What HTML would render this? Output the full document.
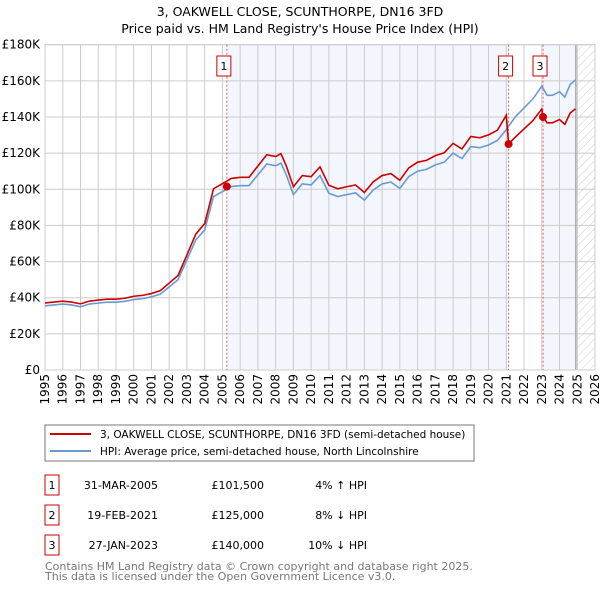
<!DOCTYPE html>
<html><head><meta charset="utf-8"><style>
body{margin:0;background:#fff;font-family:"DejaVu Sans","Liberation Sans",sans-serif}
svg text{font-family:"DejaVu Sans","Liberation Sans",sans-serif}
</style></head><body>
<svg id="c" width="600" height="590" xmlns="http://www.w3.org/2000/svg">
<defs><pattern id="hatch" width="6" height="6" patternUnits="userSpaceOnUse" patternTransform="rotate(45)"><line x1="0" y1="0" x2="0" y2="6" stroke="#ccc" stroke-width="1"/></pattern></defs>
<text x="300" y="16" text-anchor="middle" font-size="12.5">3, OAKWELL CLOSE, SCUNTHORPE, DN16 3FD</text>
<text x="300" y="33" text-anchor="middle" font-size="12.5">Price paid vs. HM Land Registry's House Price Index (HPI)</text>
<g id="plot"></g>
<rect x="45" y="425" width="429" height="36" fill="#fff" stroke="#777"/>
<line x1="50" y1="434" x2="91" y2="434" stroke="#cc0000" stroke-width="2"/>
<text x="100" y="438" font-size="10.5">3, OAKWELL CLOSE, SCUNTHORPE, DN16 3FD (semi-detached house)</text>
<line x1="50" y1="451" x2="91" y2="451" stroke="#6a9ad4" stroke-width="2"/>
<text x="100" y="455" font-size="10.5">HPI: Average price, semi-detached house, North Lincolnshire</text>
<g font-size="11" id="tbl"></g>
<text x="45" y="570" font-size="11" fill="#777">Contains HM Land Registry data © Crown copyright and database right 2025.</text>
<text x="45" y="580" font-size="11" fill="#777">This data is licensed under the Open Government Licence v3.0.</text>
</svg>
<script>
const hpiYears=[1995,1995.5,1996,1996.5,1997,1997.5,1998,1998.5,1999,1999.5,2000,2000.5,2001,2001.5,2002,2002.5,2003,2003.5,2004,2004.5,2005,2005.5,2006,2006.5,2007,2007.5,2008,2008.3,2008.6,2009,2009.5,2010,2010.5,2011,2011.5,2012,2012.5,2013,2013.5,2014,2014.5,2015,2015.5,2016,2016.5,2017,2017.5,2018,2018.5,2019,2019.5,2020,2020.5,2021,2021.5,2022,2022.5,2023,2023.3,2023.6,2024,2024.3,2024.6,2024.9];
const hpiValues=[35.5,36,36.5,36,35,36.5,37,37.5,37.5,38,39,39.5,40.5,42,46,50,61,72,77.5,96,98.7,101.5,102,102,108,114,113,114.5,108,97,103,102.4,107.6,97.8,96,97,98,94,99.6,103,104,100.5,107,110,111,113.5,115,120,117,123.6,123,124.5,127,133,140,145,150,157,152,152,154,151,158,160.5];
const priceYears=[1995,1995.5,1996,1996.5,1997,1997.5,1998,1998.5,1999,1999.5,2000,2000.5,2001,2001.5,2002,2002.5,2003,2003.5,2004,2004.5,2005,2005.5,2006,2006.5,2007,2007.5,2008,2008.3,2008.6,2009,2009.5,2010,2010.5,2011,2011.5,2012,2012.5,2013,2013.5,2014,2014.5,2015,2015.5,2016,2016.5,2017,2017.5,2018,2018.5,2019,2019.5,2020,2020.5,2021,2021.13,2021.5,2022,2022.5,2023,2023.07,2023.3,2023.6,2024,2024.3,2024.6,2024.9];
const priceValues=[37.1,37.6,38.1,37.6,36.6,38.1,38.7,39.2,39.2,39.7,40.8,41.3,42.3,43.9,48.1,52.3,63.7,75.2,81,100.3,103.1,106,106.6,106.6,112.9,119.1,118.1,119.7,112.9,101.4,107.6,107,112.4,102.2,100.3,101.4,102.4,98.2,104.1,107.6,108.7,105,111.8,115,116,118.6,120.2,125.4,122.3,129.2,128.5,130.1,132.7,141,125,128.8,133.4,138,144.4,140,136.8,136.8,138.6,135.9,142.2,144.5];
const saleYears=[2005.25,2021.13,2023.07];
const saleValues=[101.5,125,140];
const saleLabels=["1","2","3"];
const saleDates=["31-MAR-2005","19-FEB-2021","27-JAN-2023"];
const salePrices=["£101,500","£125,000","£140,000"];
const saleDiffs=["4% ↑ HPI","8% ↓ HPI","10% ↓ HPI"];
const yTicks=[0,20,40,60,80,100,120,140,160,180];
const xTicks=[1995,1996,1997,1998,1999,2000,2001,2002,2003,2004,2005,2006,2007,2008,2009,2010,2011,2012,2013,2014,2015,2016,2017,2018,2019,2020,2021,2022,2023,2024,2025,2026];
const dataEnd=2024.92;

const L=45,R=595,T=44.7,B=370;
const X=y=>L+(y-1995)/(2026-1995)*(R-L);
const Y=v=>B-v/180*(B-T);
const NS="http://www.w3.org/2000/svg";
const g=document.getElementById('plot');
function mk(tag,attrs,parent){const e=document.createElementNS(NS,tag);for(const k in attrs)e.setAttribute(k,attrs[k]);(parent||g).appendChild(e);return e;}
let e;
e=mk('rect',{x:X(saleYears[0]),y:T,width:X(saleYears[1])-X(saleYears[0]),height:B-T,fill:'#f3f6fd'});


e=mk('rect',{x:X(saleYears[2]),y:T,width:X(dataEnd)-X(saleYears[2]),height:B-T,fill:'#f3f6fd'});


e=mk('rect',{x:X(dataEnd),y:T,width:R-X(dataEnd),height:B-T,fill:'url(#hatch)'});


yTicks.forEach(v=>{
  e=mk('line',{x1:L,x2:R,y1:Y(v),y2:Y(v),stroke:'#ccc','stroke-width':1});
  
  
  e=mk('text',{x:L-5,y:Y(v)+4,'text-anchor':'end','font-size':12});
  e.textContent=v===0?'£0':'£'+v+'K';
  
  
});
xTicks.forEach(t=>{
  e=mk('line',{x1:X(t),x2:X(t),y1:T,y2:B,stroke:'#ccc','stroke-width':1});
  
  
  e=mk('text',{x:0,y:0,'text-anchor':'end','font-size':12,transform:`translate(${X(t)+4},${B+4}) rotate(-90)`});
  e.textContent=t;
  
  
});
e=mk('line',{x1:X(dataEnd),x2:X(dataEnd),y1:T,y2:B,stroke:'#999','stroke-width':1.2});


e=mk('rect',{x:L,y:T,width:R-L,height:B-T,fill:'none',stroke:'#ccc'});


saleYears.forEach((s,i)=>{
  e=mk('line',{x1:X(s),x2:X(s),y1:T,y2:B,stroke:'#e06060','stroke-width':1,'stroke-dasharray':'2,2'});
  
  
});
e=mk('polyline',{points:hpiYears.map((y,i)=>X(y)+','+Y(hpiValues[i])).join(' '),fill:'none',stroke:'#6a9ad4','stroke-width':1.6});


e=mk('polyline',{points:priceYears.map((y,i)=>X(y)+','+Y(priceValues[i])).join(' '),fill:'none',stroke:'#cc0000','stroke-width':1.6});


saleYears.forEach((s,i)=>{
  e=mk('circle',{cx:X(s),cy:Y(saleValues[i]),r:4,fill:'#cc0000'});
  
  
  e=mk('rect',{x:X(s)-10,y:56,width:14,height:20,fill:'#fff',stroke:'#cc0000'});
  
  
  e=mk('text',{x:X(s)-3,y:70,'text-anchor':'middle','font-size':11});
  e.textContent=saleLabels[i];
  
  
});
const tb=document.getElementById('tbl');
saleLabels.forEach((lab,i)=>{
  const y=475+i*30;
  e=mk('rect',{x:45,y:y,width:14,height:20,fill:'#fff',stroke:'#cc0000'},tb);
  
  
  e=mk('text',{x:52,y:y+14,'text-anchor':'middle'},tb);e.textContent=lab;
  
  
  e=mk('text',{x:158,y:y+14,'text-anchor':'end'},tb);e.textContent=saleDates[i];
  
  
  e=mk('text',{x:264,y:y+14,'text-anchor':'end'},tb);e.textContent=salePrices[i];
  
  
  e=mk('text',{x:367,y:y+14,'text-anchor':'end'},tb);e.textContent=saleDiffs[i];
  
  
});
</script>
</body></html>
